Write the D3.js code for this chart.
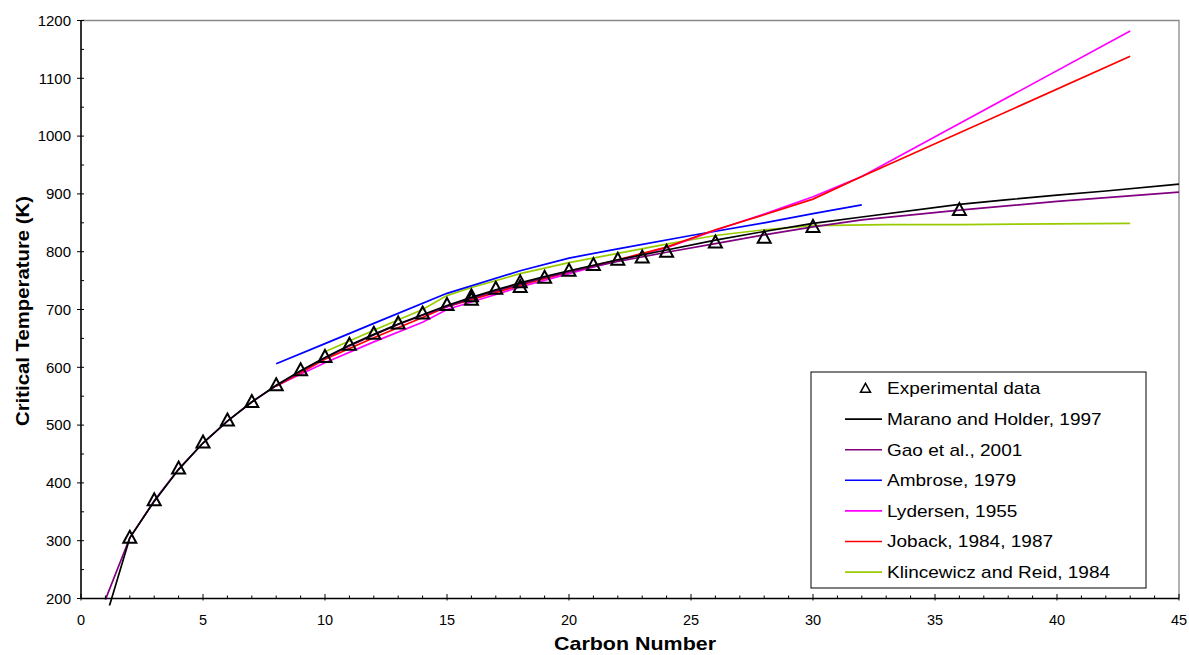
<!DOCTYPE html>
<html><head><meta charset="utf-8">
<script src="https://cdn.jsdelivr.net/npm/d3@7"></script>
<style>body{margin:0;background:#fff}svg{display:block;font-family:"Liberation Sans",Arial,sans-serif}</style>
</head><body><svg id="c" width="1189" height="655"></svg>
<script>
// Experimental data (carbon number, Tc in K)
const expC = [2,3,4,5,6,7,8,9,10,11,12,13,14,15,16,16,17,18,18,19,20,21,22,23,24,26,28,30,36];
const expT = [305,370,425,470,508,540,569,595,618,639,658,676,693,708,723,717,736,747,739,755,767,777,786,790,800,816,824,843,872];

const maranoC = [1,2,3,4,5,6,7,8,9,10,11,12,13,14,15,16,17,18,19,20,22,24,26,28,30,32,36,38,40,42,45];
const maranoT = [164,305,368,423,469,507,540,569,594,617,638,657,675,691,707,721,734,746,757,767,786,803,820,835,849,860,882,890,898,905,917];

const gaoC = [1,2,3,4,5,6,7,8,9,10,11,12,13,14,15,16,17,18,19,20,22,24,26,28,30,32,36,40,45];
const gaoT = [198,305,369,424,469,507,540,568,593,616,637,656,674,690,705,719,732,744,755,765,783,799,814,829,843,855,872,887,903];

const ambroseC = [8,10,12,15,18,20,22,25,28,30,32];
const ambroseT = [606,641,676,728,767,789,805,828,850,866,881];

const lydersenC = [8,10,12,14,15,16,18,20,22,24,26,28,30,32,43];
const lydersenT = [568,608,644,678,700,713,739,762,785,807,837,865,895,930,1182];

const jobackC = [8,10,12,14,15,16,18,20,22,24,26,28,30,32,43];
const jobackT = [567,614,651,686,705,717,742,765,786,808,838,864,891,930,1138];

const klincC = [10,12,14,15,16,18,20,22,24,26,28,30,33,36,43];
const klincT = [627,664,700,724,738,762,781,797,813,828,838,845,847,847,849];

const xTicks = [0,5,10,15,20,25,30,35,40,45];
const yTicks = [200,300,400,500,600,700,800,900,1000,1100,1200];

const series = [
  {name:"Marano and Holder, 1997", c:maranoC, t:maranoT, color:"#000000"},
  {name:"Gao et al., 2001", c:gaoC, t:gaoT, color:"#800080"},
  {name:"Ambrose, 1979", c:ambroseC, t:ambroseT, color:"#0000ff"},
  {name:"Lydersen, 1955", c:lydersenC, t:lydersenT, color:"#ff00ff"},
  {name:"Joback, 1984, 1987", c:jobackC, t:jobackT, color:"#ff0000"},
  {name:"Klincewicz and Reid, 1984", c:klincC, t:klincT, color:"#99cc00"}
];

const svg = d3.select("#c");
const x = d3.scaleLinear().domain([0,45]).range([81,1179]);
const y = d3.scaleLinear().domain([200,1200]).range([598.5,20.5]);

svg.append("path").attr("d",`M${x(0)},${y(1200)}H${x(45)}V${y(200)}`)
  .attr("fill","none").attr("stroke","#888").attr("stroke-width",1.3);

svg.append("defs").append("clipPath").attr("id","clip")
  .append("rect").attr("x",x(0)).attr("y",y(1200)).attr("width",x(45)-x(0)).attr("height",y(200)-y(1200)+7);

const line = d3.line();
const g = svg.append("g").attr("clip-path","url(#clip)");
const order = [5,2,3,4,1,0];
order.forEach(i=>{
  const s = series[i];
  g.append("path").attr("d", line(s.c.map((c,k)=>[x(c), y(s.t[k])])))
    .attr("fill","none").attr("stroke",s.color).attr("stroke-width",1.7);
});

const ax = svg.append("g").attr("stroke","#000");
ax.append("line").attr("x1",x(0)).attr("x2",x(0)).attr("y1",y(1200)).attr("y2",y(200)).attr("stroke-width",1.6);
ax.append("line").attr("x1",x(0)).attr("x2",x(45)).attr("y1",y(200)).attr("y2",y(200)).attr("stroke-width",1.6);
d3.range(200,1201,50).forEach(v=>{
  const maj = v%100===0;
  ax.append("line").attr("x1",x(0)-(maj?4:0)).attr("x2",x(0)+3).attr("y1",y(v)).attr("y2",y(v)).attr("stroke-width",1);
});
d3.range(0,46,1).forEach(v=>{
  const maj = v%5===0;
  ax.append("line").attr("x1",x(v)).attr("x2",x(v)).attr("y1",y(200)-(maj?4.5:3)).attr("y2",y(200)+(maj?2:0)).attr("stroke-width",1);
});
svg.append("g").selectAll("text").data(yTicks).join("text")
  .attr("x",x(0)-10).attr("y",d=>y(d)).attr("dy","0.35em").attr("text-anchor","end")
  .attr("font-size",15).text(d=>d);
svg.append("g").selectAll("text").data(xTicks).join("text")
  .attr("x",d=>x(d)).attr("y",y(200)+26).attr("text-anchor","middle")
  .attr("font-size",14.5).text(d=>d);

svg.append("text").attr("x",635).attr("y",650).attr("text-anchor","middle")
  .attr("font-size",19).attr("font-weight","bold")
  .attr("textLength",162).attr("lengthAdjust","spacingAndGlyphs").text("Carbon Number");
svg.append("text").attr("transform","translate(29,311) rotate(-90)").attr("text-anchor","middle")
  .attr("font-size",19).attr("font-weight","bold")
  .attr("textLength",230).attr("lengthAdjust","spacingAndGlyphs").text("Critical Temperature (K)");

function tri(cx, cy, w, h){
  return `M${cx},${cy-h*0.58}L${cx+w/2},${cy+h*0.42}L${cx-w/2},${cy+h*0.42}Z`;
}
svg.append("g").selectAll("path").data(expC.map((c,k)=>[c,expT[k]])).join("path")
  .attr("d",d=>tri(x(d[0]),y(d[1]),13,12))
  .attr("fill","none").attr("stroke","#000").attr("stroke-width",2);

const lg = svg.append("g");
lg.append("rect").attr("x",811).attr("y",372).attr("width",335).attr("height",216)
  .attr("fill","#fff").attr("stroke","#000").attr("stroke-width",1);
const rowY = k => 388.5 + k*30.6;
function legText(txt, yy){
  lg.append("text").attr("transform",`translate(887,${yy}) scale(1.12,1)`)
    .attr("dy","0.35em").attr("font-size",17).text(txt);
}
lg.append("path").attr("d",tri(865.5,rowY(0),10,9)).attr("fill","none").attr("stroke","#000").attr("stroke-width",1.5);
legText("Experimental data", rowY(0));
series.forEach((s,i)=>{
  const yy = rowY(i+1);
  lg.append("line").attr("x1",845).attr("x2",882).attr("y1",yy).attr("y2",yy).attr("stroke",s.color).attr("stroke-width",1.6);
  legText(s.name, yy);
});
</script></body></html>
